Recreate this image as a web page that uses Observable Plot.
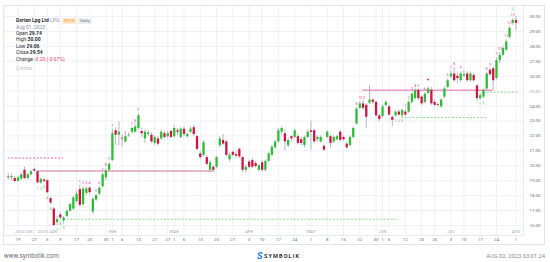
<!DOCTYPE html>
<html><head><meta charset="utf-8">
<script src="https://cdn.jsdelivr.net/npm/d3@7"></script>
<script src="https://cdn.jsdelivr.net/npm/@observablehq/plot@0.6"></script>
<style>
html,body{margin:0;padding:0;background:#fff;}
#wrap{position:relative;width:550px;height:262px;overflow:hidden;font-family:Roboto,"Open Sans",sans-serif;}
#box{position:absolute;left:3px;top:5px;width:542px;height:240px;border:1px solid #e3e4e8;box-sizing:border-box;}
#chart{position:absolute;left:0;top:0;}
#hdr{position:absolute;left:16px;top:16.5px;font-size:5px;line-height:6.4px;color:#2a2d36;white-space:nowrap;}
#hdr .g{color:#8a90a6;}
#hdr b{font-weight:700;}
.badge{display:inline-block;padding:0 2px;border-radius:1px;line-height:6px;font-size:4.4px;margin-left:1.5px;}
.nyse{background:#fde9cc;color:#f0a23a;}
.daily{background:#eceef3;color:#6a6f80;}
.red{color:#f0406a;}
#combo{color:#b9bcc8;margin-top:3px;}
#foot1{position:absolute;left:4px;top:252px;font-size:6.3px;color:#6b6e78;}
#foot2{position:absolute;right:5px;top:252.5px;font-size:5.8px;color:#8a8d96;}
#logo{position:absolute;left:257px;top:250.5px;font-size:5.6px;font-weight:700;color:#2b2f3a;letter-spacing:1.1px;}
#logo .s{display:inline-block;color:#1677e6;font-size:9px;font-style:italic;letter-spacing:0;margin-right:1.5px;vertical-align:-1.5px;}
</style></head>
<body>
<div id="wrap">
  <div id="box"></div>
  <div id="chart"></div>
  <div id="hdr">
    <div><b>Dorian Lpg Ltd</b> <span class="g">LPG</span> <span class="badge nyse">NYSE</span><span class="badge daily">Daily</span></div>
    <div class="g">Aug 01, 2023</div>
    <div>Open <b>29.74</b></div>
    <div>High <b>30.00</b></div>
    <div>Low <b>29.06</b></div>
    <div>Close <b>29.54</b></div>
    <div>Change <span class="red">-0.20 (-0.67%)</span></div>
    <div id="combo">Combo</div>
  </div>
  <div id="foot1">www.symbolik.com</div>
  <div id="logo"><span class="s">S</span>SYMBOLIK</div>
  <div id="foot2">AUG 02, 2023 03:01:24</div>
</div>
<script>
// ---- OHLC data (trading days 2022-12-14 .. 2023-08-01) ----
const open = [19.25,19.20,19.15,18.95,19.10,19.70,19.15,19.40,19.75,19.60,18.85,19.05,
19.00,17.80,17.10,16.20,16.70,16.30,16.60,16.95,17.10,17.60,18.40,17.40,18.15,18.50,16.90,17.70,18.10,18.60,19.20,19.70,
20.35,22.35,22.05,21.85,21.60,22.00,22.25,22.25,22.50,22.30,21.80,22.10,22.05,21.50,21.80,21.80,22.15,21.95,22.30,
21.95,22.35,21.90,22.45,21.95,22.25,22.55,21.95,20.80,20.70,20.55,19.70,19.90,19.90,21.35,21.70,21.60,20.40,20.90,20.75,21.10,20.55,19.70,
20.25,20.35,20.15,19.70,20.20,19.70,20.30,20.70,21.20,21.60,22.25,22.15,21.35,21.95,21.90,21.95,21.75,21.35,21.90,
22.35,22.35,21.75,21.60,21.30,21.90,21.95,21.60,21.75,22.25,21.90,21.45,21.35,21.90,22.80,23.85,24.15,24.05,24.20,24.40,24.25,23.35,
23.30,24.05,23.95,23.25,23.35,23.60,23.35,23.60,23.60,24.25,24.50,25.05,24.60,24.25,24.85,25.05,24.25,24.10,23.95,24.60,25.25,
25.95,26.15,26.00,25.70,26.00,26.15,25.70,26.05,25.35,24.50,24.60,25.15,26.40,26.50,25.85,27.05,27.40,27.75,28.60,29.55,
29.74];
const high = [19.50,19.45,19.30,19.30,19.50,19.90,19.50,19.70,19.85,19.65,19.20,19.15,
19.10,17.90,17.20,16.60,16.85,16.60,17.05,17.50,17.95,18.30,18.70,18.60,18.60,18.60,17.85,18.10,18.60,19.50,19.80,20.20,
22.45,22.55,22.95,22.10,22.30,22.20,22.60,22.80,23.50,22.50,22.40,22.35,22.20,22.00,21.95,22.40,22.30,22.30,22.40,
22.70,22.50,22.55,22.60,22.20,22.60,22.70,22.05,20.95,21.70,20.70,20.35,20.05,20.65,21.95,22.10,21.75,20.85,21.00,20.95,21.20,20.65,20.05,
20.40,20.50,20.30,20.10,20.35,20.40,20.90,21.35,21.70,22.50,22.60,22.40,21.85,22.00,22.45,22.10,21.90,22.00,22.40,
23.00,22.45,22.00,22.00,21.45,22.35,22.05,22.00,22.05,22.35,22.00,21.55,22.00,22.60,23.90,24.30,24.35,24.15,25.40,24.50,24.35,23.45,
24.05,24.35,24.05,23.35,23.70,23.75,23.80,23.75,24.35,24.90,25.15,25.15,24.70,24.90,25.30,25.25,24.40,24.20,24.50,25.30,25.85,
26.35,26.60,26.20,26.30,26.40,26.30,26.30,26.20,25.45,24.85,25.15,26.25,26.55,26.60,27.25,27.60,28.00,28.45,29.35,29.85,
30.00];
const low = [19.05,19.00,18.85,18.90,19.00,19.05,19.05,19.30,19.55,18.80,18.75,18.85,
18.10,17.40,15.90,16.00,16.40,16.10,16.50,16.90,17.00,17.50,17.20,17.30,18.00,18.10,16.75,17.60,18.00,18.50,19.00,19.60,
20.30,21.35,21.35,21.25,21.50,21.90,22.10,22.20,22.40,21.90,21.50,21.95,21.50,21.35,21.30,21.70,21.80,21.85,21.80,
21.85,22.00,21.80,21.95,21.85,22.15,21.95,21.00,20.40,20.60,20.00,19.55,19.55,19.80,21.20,21.35,20.60,20.25,20.60,20.50,20.50,19.55,19.50,
19.80,19.80,19.85,19.60,19.55,19.60,20.20,20.60,21.10,21.50,22.10,21.00,21.20,21.60,21.80,21.40,21.35,21.20,21.80,
21.05,21.50,21.60,21.50,20.95,21.80,21.20,21.50,21.65,21.60,21.65,21.10,21.30,21.80,22.75,23.75,23.75,22.50,24.10,24.10,23.25,22.95,
23.20,23.95,23.30,22.60,23.25,23.30,23.25,23.30,23.50,24.15,24.40,24.40,24.05,24.15,24.75,24.05,23.95,23.95,23.85,24.50,25.15,
25.85,25.60,25.50,25.60,25.90,25.60,25.60,25.60,24.30,24.40,24.50,25.05,26.00,25.05,25.75,26.85,27.30,27.65,28.50,29.40,
29.06];
const close = [19.20,19.28,18.95,19.20,19.40,19.15,19.40,19.60,19.65,18.85,19.10,18.95,
18.20,17.50,16.00,16.40,16.50,16.50,16.95,17.40,17.85,18.10,17.35,18.45,18.45,18.20,17.75,18.00,18.50,19.40,19.65,20.10,
22.15,22.05,22.25,21.80,21.95,22.05,22.50,22.60,23.35,22.15,22.25,22.20,21.60,21.90,21.45,22.25,21.90,22.15,21.90,
22.50,22.25,22.45,22.10,22.10,22.45,22.10,21.10,20.55,21.55,20.10,20.20,19.70,20.55,21.80,21.45,20.70,20.70,20.70,20.65,20.60,19.70,19.90,
19.90,19.90,19.95,20.00,19.70,20.30,20.80,21.25,21.60,22.35,22.50,21.60,21.70,21.80,22.35,21.50,21.50,21.90,22.25,
22.25,21.60,21.90,21.90,21.05,22.25,21.50,21.90,21.95,21.70,21.75,21.20,21.90,22.50,23.80,24.15,23.85,23.25,24.40,24.25,23.35,23.10,
23.95,24.25,23.40,23.05,23.60,23.40,23.70,23.40,24.25,24.80,25.05,24.50,24.15,24.80,25.15,24.15,24.05,24.05,24.40,25.15,25.70,
26.15,25.70,25.85,26.15,26.10,25.70,26.15,25.70,24.50,24.70,25.05,26.15,26.10,25.70,27.05,27.40,27.85,28.30,29.20,29.74,
29.54];

// ---- axis labels ----
const tickIdx   = [3,8,12,16,21,25,30,32,35,40,45,49,51,54,59,64,69,74,78,83,88,93,98,103,108,113,115,117,122,127,131,136,140,145,150,156];
const tickLabel = ["19","27","3","9","17","23","30","1","6","13","21","27","1","6","13","20","27","3","10","17","24","1","8","15","22","30","1","5","12","20","26","3","10","17","24","1"];
const monthIdx   = [5,12,32,51,74,93,115,136,156];
const monthLabel = ["2022 DEC","2023 JAN","FEB","MAR","APR","MAY","JUN","JUL","AUG"];
const priceTicks = [16,17,18,19,20,21,22,23,24,25,26,27,28,29,30];

// ---- TD level lines ----
const levelPrice = [20.52, 19.65, 16.42, 25.07, 24.93, 23.23];
const levelFrom  = [0, 9, 17, 109, 146, 121];
const levelTo    = [17, 63, 120, 149, 157, 147];
const levelKind  = ["pinkDash","redSolid","greenDash","pinkSolid","greenDash","greenDash"];

// ---- price tags on the right axis ----
const tagPrice = [30.45, 29.54, 24.96];
const tagText  = ["30.45","29.54","24.96"];
const tagKind  = ["pink","dark","green"];

// ---- TD count labels ----
const upIdx  = [22,23,24,25,27,28,29,30,31,32,38,39,40,107,108,109,122,123,124,125,126,128,135,136,137,139,147,148,150,151,153,154,155];
const upText = ["1","2","3","4","5","6","7","8","9","1","7","8","9","8","9","13","1","2","3","4","5","6","6","7","8","9","8","9","9","10","11","12","13"];
const dnIdx  = [9,10,11,12,13,15,16,17,119,120,121,145,146];
const dnText = ["1","2","3","4","5","7","8","9","1","2","3","1","2"];
const sellArrowIdx = [129];
const comboIdx = [155];
const comboText = ["V"];

// ---- build ----
const GREEN = "#2cbd37", RED = "#cf1442", WICK = "#a4a6ad", PINK = "#e4519f", LGREEN = "#84d484";
const data = open.map((o, i) => ({i, open: o, high: high[i], low: low[i], close: close[i]}));
const levels = levelPrice.map((p, k) => ({p, a: levelFrom[k], b: levelTo[k], k: levelKind[k]}));
const tags = tagPrice.map((p, k) => ({p, t: tagText[k], k: tagKind[k]}));
const ups = upIdx.map((i, k) => ({i, t: upText[k], y: high[i]}));
const dns = dnIdx.map((i, k) => ({i, t: dnText[k], y: low[i]}));
const arrows = sellArrowIdx.map(i => ({i, y: high[i]}));
const combos = comboIdx.map((i, k) => ({i, t: comboText[k], y: high[i]}));
const tagFill = {pink: "#e0248f", dark: "#4a4d5c", green: "#2cc23a"};

const plot = Plot.plot({
  width: 550, height: 262,
  marginLeft: 3.5, marginRight: 27, marginTop: 5, marginBottom: 27,
  x: {type: "linear", domain: [-1.3, 158.3], axis: null},
  y: {type: "linear", domain: [15.33, 30.74], axis: null},
  color: {type: "identity"},
  style: {fontFamily: "Roboto, 'Open Sans', sans-serif", background: "transparent", overflow: "visible"},
  marks: [
    Plot.ruleX(tickIdx, {x: d => d, stroke: "#eceef5", strokeWidth: 0.8}),
    Plot.ruleY(priceTicks, {y: d => d, stroke: "#eceef5", strokeWidth: 0.8}),
    Plot.frame({stroke: "#e4e5ea", strokeWidth: 0.8}),
    Plot.text(tickIdx, {x: d => d, text: (d, k) => tickLabel[k], frameAnchor: "bottom", dy: 5, fontSize: 4.4, fill: "#6a6d78"}),
    Plot.text(monthIdx, {x: d => d, text: (d, k) => monthLabel[k], frameAnchor: "bottom", dy: -3, fontSize: 4.3, fill: "#a8acbb"}),
    Plot.text(priceTicks, {y: d => d, text: d => d.toFixed(2), frameAnchor: "right", textAnchor: "middle", dx: 11.5, fontSize: 4.4, fill: "#6a6d78"}),
    Plot.ruleY(levels.filter(d => d.k === "redSolid"), {y: "p", x1: "a", x2: "b", stroke: "#d2607a", strokeWidth: 0.9}),
    Plot.ruleY(levels.filter(d => d.k === "pinkSolid"), {y: "p", x1: "a", x2: "b", stroke: PINK, strokeWidth: 0.9}),
    Plot.ruleY(levels.filter(d => d.k === "pinkDash"), {y: "p", x1: "a", x2: "b", stroke: PINK, strokeWidth: 0.9, strokeDasharray: "2,1.6"}),
    Plot.ruleY(levels.filter(d => d.k === "greenDash"), {y: "p", x1: "a", x2: "b", stroke: LGREEN, strokeWidth: 0.9, strokeDasharray: "2,1.6"}),
    Plot.ruleX(data, {x: "i", y1: "low", y2: "high", stroke: WICK, strokeWidth: 0.8}),
    Plot.ruleX(data, {x: "i", y1: "open", y2: "close", stroke: d => d.close >= d.open ? GREEN : RED, strokeWidth: 2.3}),
    Plot.text(ups, {x: "i", y: "y", text: "t", dy: -3.6, fontSize: 3.9, fill: PINK}),
    Plot.text(dns, {x: "i", y: "y", text: "t", dy: 3.8, fontSize: 3.9, fill: "#58c458"}),
    Plot.text(arrows, {x: "i", y: "y", text: () => "▼", dy: -7, fontSize: 3.8, fill: "#d2213f"}),
    Plot.text(combos, {x: "i", y: "y", text: "t", dy: -9, fontSize: 5, fill: "#8ad88a"}),
    Plot.text(tags, {y: "p", text: "t", frameAnchor: "right", textAnchor: "middle", dx: 11.5, fontSize: 4.4, fill: "white", ariaLabel: "tag"})
  ]
});
document.getElementById("chart").appendChild(plot);

// backgrounds behind the price tags, sized from the rendered text
d3.select(plot).selectAll('g[aria-label="tag"] text').each(function(_, k) {
  const bb = this.getBBox();
  const r = document.createElementNS("http://www.w3.org/2000/svg", "rect");
  const cx = bb.x + bb.width / 2, cy = bb.y + bb.height / 2;
  r.setAttribute("x", cx - 9.5);
  r.setAttribute("y", cy - 3);
  r.setAttribute("width", 19);
  r.setAttribute("height", 6);
  r.setAttribute("fill", tagFill[tags[k].k]);
  const tr = this.getAttribute("transform");
  if (tr) r.setAttribute("transform", tr);
  this.parentNode.insertBefore(r, this);
});
</script>
</body></html>
